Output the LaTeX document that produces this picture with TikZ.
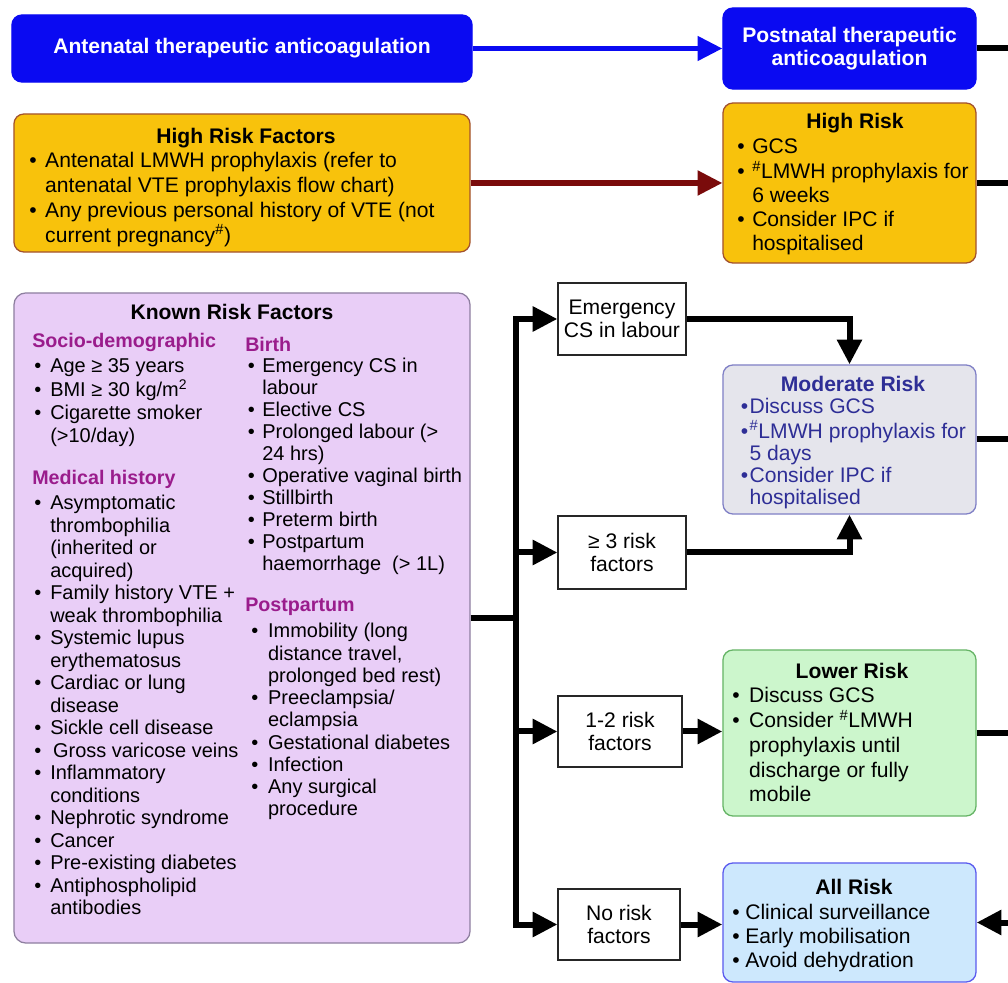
\documentclass[tikz,border=0pt]{standalone}
\usepackage{fontspec}
\setmainfont{Liberation Sans}
\usetikzlibrary{arrows.meta, positioning, calc}
\definecolor{ptblue}{HTML}{0A0AF2}
\definecolor{hrgold}{HTML}{F8C20C}
\definecolor{hrline}{HTML}{A3522E}
\definecolor{hrarrow}{HTML}{7A0B0B}
\definecolor{krfill}{HTML}{E9CEF7}
\definecolor{krline}{HTML}{8E7FA0}
\definecolor{krhead}{HTML}{9A1C8C}
\definecolor{modfill}{HTML}{E5E5EC}
\definecolor{modline}{HTML}{8080C6}
\definecolor{modtext}{HTML}{2E2E96}
\definecolor{lowfill}{HTML}{CCF6CC}
\definecolor{lowline}{HTML}{66B466}
\definecolor{allfill}{HTML}{CDE8FD}
\definecolor{allline}{HTML}{5A5AEE}

\newcommand{\blist}[2][6pt]{\begin{tabular}[t]{@{}l@{\hspace{#1}}l@{}}#2\end{tabular}}
\newcommand{\hsh}{\textsuperscript{\#}}

\begin{document}
\begin{tikzpicture}[x=0.025cm, y=-0.025cm,
  >={Triangle[length=0.62cm, width=0.6cm]},
  riskbox/.style={rounded corners=0.25cm, line width=0.9pt, inner sep=0pt},
  stepbox/.style={draw=black!85, fill=white, line width=0.8pt, align=center,
    inner sep=0pt, font=\fontsize{15}{16.8}\selectfont},
  conn/.style={line width=0.15cm},
  boxtitle/.style={font=\fontsize{15}{18}\selectfont\bfseries, inner sep=0pt},
  subhead/.style={anchor=west, inner sep=0pt, text=krhead,
    font=\fontsize{14}{16}\selectfont\bfseries},
  itemlist/.style={anchor=base west, inner sep=0pt}]

\useasboundingbox (0,0) rectangle (1008,983);
\fill[white] (0,0) rectangle (1008,983);

% Top row: therapeutic anticoagulation
\node[riskbox, fill=ptblue, draw=ptblue, minimum width=11.5cm, minimum height=1.675cm,
      text=white, font=\fontsize{15}{18}\selectfont\bfseries] (ante) at (242,48.5)
      {Antenatal therapeutic anticoagulation};
\node[riskbox, fill=ptblue, draw=ptblue, minimum width=6.325cm, minimum height=2.025cm,
      text=white, align=center, font=\fontsize{15}{16.8}\selectfont\bfseries] (post) at (849.5,48.5)
      {Postnatal therapeutic\\anticoagulation};

% High risk
\node[riskbox, fill=hrgold, draw=hrline, minimum width=11.4cm, minimum height=3.45cm] (hrf) at (242,183) {};
\node[boxtitle] (hrf title) at (246,138) {High Risk Factors};
\node[itemlist, font=\fontsize{15}{17.5}\selectfont] (hrf list) at (29,168)
  {\blist[6.1pt]{• & Antenatal LMWH prophylaxis (refer to\\
                   & antenatal VTE prophylaxis flow chart)\\
                 • & Any previous personal history of VTE (not\\
                   & current pregnancy\hsh)}};

\node[riskbox, fill=hrgold, draw=hrline, minimum width=6.325cm, minimum height=4cm] (hr) at (849.5,183) {};
\node[boxtitle] (hr title) at (855,123) {High Risk};
\node[itemlist, font=\fontsize{15}{17.1}\selectfont] (hr list) at (737,154)
  {\blist[5.4pt]{• & GCS\\
                 • & \hsh LMWH prophylaxis for\\
                   & 6 weeks\\
                 • & Consider IPC if\\
                   & hospitalised}};

% Known risk factors
\node[riskbox, rounded corners=0.3cm, fill=krfill, draw=krline, minimum width=11.4cm,
      minimum height=16.25cm] (krf) at (242,618) {};
\node[boxtitle] (krf title) at (232,312) {Known Risk Factors};

\node[subhead] (socio) at (32,342) {Socio-demographic};
\node[itemlist, font=\fontsize{14.2}{16.3}\selectfont] (socio list) at (34,373)
  {\blist[6.4pt]{• & Age ≥ 35 years\\
                 • & BMI ≥ 30 kg/m\textsuperscript{2}\\
                 • & Cigarette smoker\\
                   & (>10/day)}};

\node[subhead] (medhist) at (32,479) {Medical history};
\node[itemlist, font=\fontsize{14.2}{16}\selectfont] (medhist list) at (34,510)
  {\blist[6.4pt]{• & Asymptomatic\\
                   & thrombophilia\\
                   & (inherited or\\
                   & acquired)\\
                 • & Family history VTE +\\
                   & weak thrombophilia\\
                 • & Systemic lupus\\
                   & erythematosus\\
                 • & Cardiac or lung\\
                   & disease\\
                 • & Sickle cell disease\\
                 • & \hspace{2pt}Gross varicose veins\\
                 • & Inflammatory\\
                   & conditions\\
                 • & Nephrotic syndrome\\
                 • & Cancer\\
                 • & Pre-existing diabetes\\
                 • & Antiphospholipid\\
                   & antibodies}};

\node[subhead] (birth) at (245,344) {Birth};
\node[itemlist, font=\fontsize{14.2}{15.6}\selectfont] (birth list) at (247.5,373)
  {\blist[5.4pt]{• & Emergency CS in\\
                   & labour\\
                 • & Elective CS\\
                 • & Prolonged labour (>\\
                   & 24 hrs)\\
                 • & Operative vaginal birth\\
                 • & Stillbirth\\
                 • & Preterm birth\\
                 • & Postpartum\\
                   & haemorrhage~~(> 1L)}};

\node[subhead] (postp) at (245,607) {Postpartum};
\node[itemlist, font=\fontsize{14.2}{15.8}\selectfont] (postp list) at (251,638)
  {\blist[7pt]{• & Immobility (long\\
                 & distance travel,\\
                 & prolonged bed rest)\\
               • & Preeclampsia/\\
                 & eclampsia\\
               • & Gestational diabetes\\
               • & Infection\\
               • & Any surgical\\
                 & procedure}};

% Risk factor counts
\node[stepbox, minimum width=3.2cm, minimum height=1.8cm] (emcs) at (622,319) {Emergency\\CS in labour};
\node[stepbox, minimum width=3.2cm, minimum height=1.825cm] (three) at (622,552.5) {≥ 3 risk\\factors};
\node[stepbox, minimum width=3.1cm, minimum height=1.775cm] (onetwo) at (620,731.5) {1-2 risk\\factors};
\node[stepbox, minimum width=3.05cm, minimum height=1.775cm] (none) at (619,924.5) {No risk\\factors};

% Moderate risk
\node[riskbox, fill=modfill, draw=modline, minimum width=6.325cm, minimum height=3.725cm] (mod) at (849.5,439.5) {};
\node[boxtitle, text=modtext] (mod title) at (853,384) {Moderate Risk};
\node[itemlist, text=modtext, font=\fontsize{15}{15.8}\selectfont] (mod list) at (740.5,414)
  {\blist[1pt]{• & Discuss GCS\\
               • & \hsh LMWH prophylaxis for\\
                 & 5 days\\
               • & Consider IPC if\\
                 & hospitalised}};

% Lower risk
\node[riskbox, fill=lowfill, draw=lowline, minimum width=6.325cm, minimum height=4.15cm] (low) at (849.5,733) {};
\node[boxtitle] (low title) at (852,671) {Lower Risk};
\node[itemlist, font=\fontsize{15}{17.5}\selectfont] (low list) at (732,703)
  {\blist[6.8pt]{• & Discuss GCS\\
                 • & Consider \hsh LMWH\\
                   & prophylaxis until\\
                   & discharge or fully\\
                   & mobile}};

% All risk
\node[riskbox, fill=allfill, draw=allline, minimum width=6.325cm, minimum height=2.975cm] (all) at (849.5,922.5) {};
\node[boxtitle] (all title) at (854,887) {All Risk};
\node[itemlist, font=\fontsize{15}{17.3}\selectfont] (all list) at (732,919)
  {\blist[4pt]{• & Clinical surveillance\\
               • & Early mobilisation\\
               • & Avoid dehydration}};

% Connectors
\draw[ptblue, line width=0.12cm, ->] (ante) -- (post);
\draw[hrarrow, line width=0.13cm, ->] (hrf) -- (hr);

\coordinate (edge) at (1008,0);
\draw[conn] (post) -- (post -| edge);
\draw[conn] (hr) -- (hr -| edge);
\draw[conn] (mod) -- (mod -| edge);
\draw[conn] (low) -- (low -| edge);
\draw[conn, ->] (all -| edge) -- (all);

\coordinate[right=1.125cm of krf.east] (fork);
\draw[conn] (krf) -- (fork);
\draw[conn, ->] (fork) |- (emcs);
\draw[conn, ->] (fork) |- (three);
\draw[conn, ->] (fork) |- (onetwo);
\draw[conn, ->] (fork) |- (none);

\draw[conn, ->] (emcs) -| (mod);
\draw[conn, ->] (three) -| (mod);
\draw[conn, ->] (onetwo.east) -- (onetwo.east -| low.west);
\draw[conn, ->] (none.east) -- (none.east -| all.west);

\end{tikzpicture}
\end{document}
